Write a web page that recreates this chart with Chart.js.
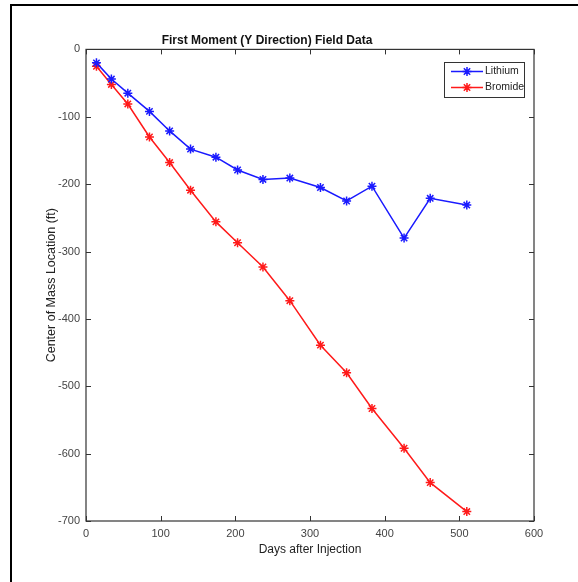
<!DOCTYPE html>
<html>
<head>
<meta charset="utf-8">
<script src="https://cdn.jsdelivr.net/npm/chart.js@4.4.1/dist/chart.umd.min.js"></script>
<style>
    html, body { margin: 0; padding: 0; background: #fff; overflow: hidden; }
    #wrap { position: relative; width: 578px; height: 582px; }
    #frame { position: absolute; left: 10px; top: 4px; width: 620px; height: 640px; border: 2px solid #000; }
    #chart { position: absolute; left: 0; top: 0; }
</style>
</head>
<body>
<div id="wrap">
    <div id="frame"></div>
    <canvas id="chart" width="578" height="582"></canvas>
</div>
<script>
var days = [14, 34, 56, 85, 112, 140, 174, 203, 237, 273, 314, 349, 383, 426, 461, 510];
var lithium = [-20, -44, -65, -92, -121, -148, -160, -179, -193, -191, -205, -225, -203, -280, -221, -231];
var bromide = [-25, -52, -81, -130, -168, -209, -256, -287, -323, -373, -439, -480, -533, -592, -643, -686];
var xTicks = [0, 100, 200, 300, 400, 500, 600];
var yTicks = [-700, -600, -500, -400, -300, -200, -100, 0];

var font = "'Liberation Sans', Arial, sans-serif";

function toPoints(xs, ys) {
    var pts = [];
    for (var i = 0; i < xs.length; i++)
        pts.push({ x: xs[i], y: ys[i] });
    return pts;
}

// MATLAB style box with inward ticks on all four sides
var boxPlugin = {
    id: 'box',
    afterDraw: function(chart) {
        var ctx = chart.ctx;
        var a = chart.chartArea;
        var xs = chart.scales.x;
        var ys = chart.scales.y;
        ctx.save();
        ctx.strokeStyle = '#333';
        ctx.lineWidth = 1.2;
        ctx.strokeRect(a.left, a.top, a.right - a.left, a.bottom - a.top);
        ctx.lineWidth = 1;
        xs.ticks.forEach(function(t) {
            var px = Math.round(xs.getPixelForValue(t.value)) + 0.5;
            ctx.beginPath();
            ctx.moveTo(px, a.bottom); ctx.lineTo(px, a.bottom - 5);
            ctx.moveTo(px, a.top); ctx.lineTo(px, a.top + 5);
            ctx.stroke();
        });
        ys.ticks.forEach(function(t) {
            var py = Math.round(ys.getPixelForValue(t.value)) + 0.5;
            ctx.beginPath();
            ctx.moveTo(a.left, py); ctx.lineTo(a.left + 5, py);
            ctx.moveTo(a.right, py); ctx.lineTo(a.right - 5, py);
            ctx.stroke();
        });

        // legend
        var lx = 444, ly = 62, lw = 80, lh = 35;
        ctx.fillStyle = '#fff';
        ctx.fillRect(lx, ly, lw, lh);
        ctx.strokeStyle = '#333';
        ctx.strokeRect(lx + 0.5, ly + 0.5, lw, lh);
        chart.data.datasets.forEach(function(ds, i) {
            var y = ly + 9.5 + i * 16;
            ctx.strokeStyle = ds.borderColor;
            ctx.lineWidth = 1.5;
            ctx.beginPath();
            ctx.moveTo(lx + 7, y); ctx.lineTo(lx + 39, y);
            ctx.stroke();
            Chart.helpers.drawPoint(ctx, { pointStyle: 'star', radius: 4.5, borderWidth: 1.5 }, lx + 23, y);
            ctx.fillStyle = '#222';
            ctx.font = '10.5px ' + font;
            ctx.textBaseline = 'middle';
            ctx.textAlign = 'left';
            ctx.fillText(ds.label, lx + 41, y);
        });
        ctx.restore();
    }
};

var ctx = document.getElementById('chart');

var myChart = new Chart(ctx, {
    type: 'line',
    data: {
        datasets: [{
            label: 'Lithium',
            data: toPoints(days, lithium),
            borderColor: '#1a1aff',
            backgroundColor: '#1a1aff',
            borderWidth: 1.5,
            pointStyle: 'star',
            pointRadius: 4.5,
            pointBorderWidth: 1.5,
            tension: 0
        }, {
            label: 'Bromide',
            data: toPoints(days, bromide),
            borderColor: '#ff1a1a',
            backgroundColor: '#ff1a1a',
            borderWidth: 1.5,
            pointStyle: 'star',
            pointRadius: 4.5,
            pointBorderWidth: 1.5,
            tension: 0
        }]
    },
    options: {
        responsive: false,
        animation: false,
        layout: { padding: { left: 0, right: 44, top: 0, bottom: 0 } },
        plugins: {
            legend: { display: false },
            tooltip: { enabled: false },
            title: {
                display: true,
                text: 'First Moment (Y Direction) Field Data',
                color: '#111',
                font: { family: font, size: 12, weight: 'bold' },
                padding: { top: 33, bottom: 2 }
            }
        },
        scales: {
            x: {
                type: 'linear',
                min: 0,
                max: 600,
                afterBuildTicks: function(scale) {
                    scale.ticks = xTicks.map(function(v) { return { value: v }; });
                },
                afterFit: function(scale) { scale.height = 61; },
                grid: { display: false, drawTicks: false },
                border: { display: false },
                ticks: { color: '#444', font: { family: font, size: 11 }, padding: 6, maxRotation: 0 },
                title: {
                    display: true,
                    text: 'Days after Injection',
                    color: '#222',
                    font: { family: font, size: 12 },
                    padding: { top: 0, bottom: 25 }
                }
            },
            y: {
                type: 'linear',
                min: -700,
                max: 0,
                afterBuildTicks: function(scale) {
                    scale.ticks = yTicks.map(function(v) { return { value: v }; });
                },
                afterFit: function(scale) { scale.width = 86; },
                grid: { display: false, drawTicks: false },
                border: { display: false },
                ticks: { color: '#444', font: { family: font, size: 11 }, padding: 6 },
                title: {
                    display: true,
                    text: 'Center of Mass Location (ft)',
                    color: '#222',
                    font: { family: font, size: 12.5 },
                    padding: { top: 44, bottom: 0 }
                }
            }
        }
    },
    plugins: [boxPlugin]
});
</script>
</body>
</html>
